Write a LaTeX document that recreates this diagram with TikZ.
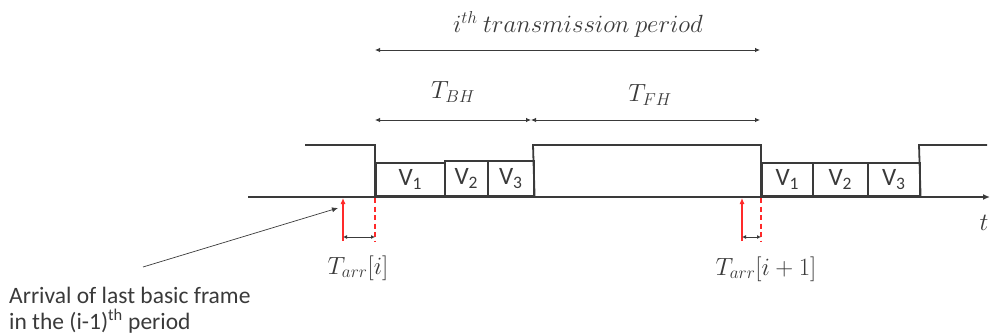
\documentclass[tikz,border=0pt]{standalone}
\usepackage{fontspec}
\setmainfont{Carlito}
\usetikzlibrary{arrows.meta}
\definecolor{ink}{HTML}{3A3A3A}
\definecolor{redl}{HTML}{FF2A2A}
\begin{document}
\begin{tikzpicture}[x=1pt,y=-1pt,
  wave/.style={draw=ink, line width=1.8pt},
  vbox/.style={draw=ink, line width=1.6pt, anchor=south west, inner sep=0pt,
    text=ink, font=\fontsize{25}{25}\selectfont},
  dim/.style={draw=ink, line width=0.8pt, {Latex[length=5pt,width=4.5pt]}-{Latex[length=5pt,width=4.5pt]}},
  dimsm/.style={draw=ink, line width=0.8pt, {Latex[length=4pt,width=4pt]}-{Latex[length=4pt,width=4pt]}},
  mlabel/.style={text=ink, inner sep=0pt, font=\fontsize{24}{24}\selectfont},
  arrv/.style={draw=redl, line width=1.1pt, -{Latex[length=6pt,width=5pt]}},
  dsh/.style={draw=redl, line width=1.4pt, dash pattern=on 5pt off 3.5pt},
]
\useasboundingbox (0,0) rectangle (990,334);
% baseline
\coordinate (b0) at (248,197);
\coordinate (b1) at (990,197);
\draw[draw=ink, line width=1.8pt, -{Latex[length=7pt,width=6pt]}] (b0) -- (b1);
% boxes
\node[vbox, minimum width=69pt, minimum height=33pt] (a1) at (375,197) {\raisebox{-1pt}{V\textsubscript{1}}};
\node[vbox, minimum width=43pt, minimum height=35pt] (a2) at (444,197) {\raisebox{-1pt}{V\textsubscript{2}}};
\node[vbox, minimum width=46pt, minimum height=35pt] (a3) at (487,197) {\raisebox{-1pt}{V\textsubscript{3}}};
\node[vbox, minimum width=51pt, minimum height=33pt] (c1) at (761,197) {\raisebox{-1pt}{V\textsubscript{1}}};
\node[vbox, minimum width=55pt, minimum height=33pt] (c2) at (812,197) {\raisebox{-1pt}{V\textsubscript{2}}};
\node[vbox, minimum width=52pt, minimum height=33pt] (c3) at (867,197) {\raisebox{-1pt}{V\textsubscript{3}}};
% waveform
\coordinate (w0) at (305,145);
\coordinate (w1) at (375,145);
\coordinate (w2) at (533,145);
\coordinate (w3) at (761,145);
\coordinate (w4) at (919,145);
\coordinate (w5) at (987,145);
\draw[wave] (w0) -- (w1) -- (a1.south west);
\draw[wave] (a3.south east) -- (w2) -- (w3) -- (c1.south west);
\draw[wave] (c3.south east) -- (w4) -- (w5);
% top labels
\coordinate (p0) at (375,50);
\coordinate (p1) at (760,50);
\draw[dim] (p0) -- (p1);
\node[mlabel, font=\fontsize{24.5}{24.5}\selectfont] (title) at (578,24) {$i^{th}\ transmission\ period$};
\coordinate (q0) at (375,120);
\coordinate (q1) at (531,120);
\coordinate (q2) at (760,120);
\draw[dim] (q0) -- (q1);
\draw[dim] (q1) -- (q2);
\node[mlabel] (tbh) at (453,92) {$T_{BH}$};
\node[mlabel] (tfh) at (650,95) {$T_{FH}$};
% arrivals
\coordinate (r0) at (343,241);
\coordinate (r1) at (343,198);
\coordinate (s0) at (375,198);
\coordinate (s1) at (375,241);
\draw[arrv] (r0) -- (r1);
\draw[dsh] (s0) -- (s1);
\coordinate (d0) at (343,237);
\coordinate (d1) at (375,237);
\draw[dimsm] (d0) -- (d1);
\coordinate (r2) at (742,241);
\coordinate (r3) at (742,198);
\coordinate (s2) at (761,198);
\coordinate (s3) at (761,241);
\draw[arrv] (r2) -- (r3);
\draw[dsh] (s2) -- (s3);
\coordinate (d2) at (742,237);
\coordinate (d3) at (761,237);
\draw[dimsm] (d2) -- (d3);
\node[mlabel] (ta) at (358,268) {$T_{arr}[i]$};
\node[mlabel] (tb) at (766,269) {$T_{arr}[i+1]$};
\node[mlabel] (tt) at (984,223) {$t$};
% annotation
\node[text=ink, anchor=west, align=left, inner sep=0pt,
  font=\fontsize{23.5}{26}\selectfont] (note) at (9,310)
  {Arrival of last basic frame\\in the (i-1)\textsuperscript{th} period};
\coordinate (n0) at (143,267);
\coordinate (n1) at (338,208);
\draw[draw=ink, line width=0.7pt, -{Latex[length=6pt,width=5pt]}] (n0) -- (n1);
\end{tikzpicture}
\end{document}
